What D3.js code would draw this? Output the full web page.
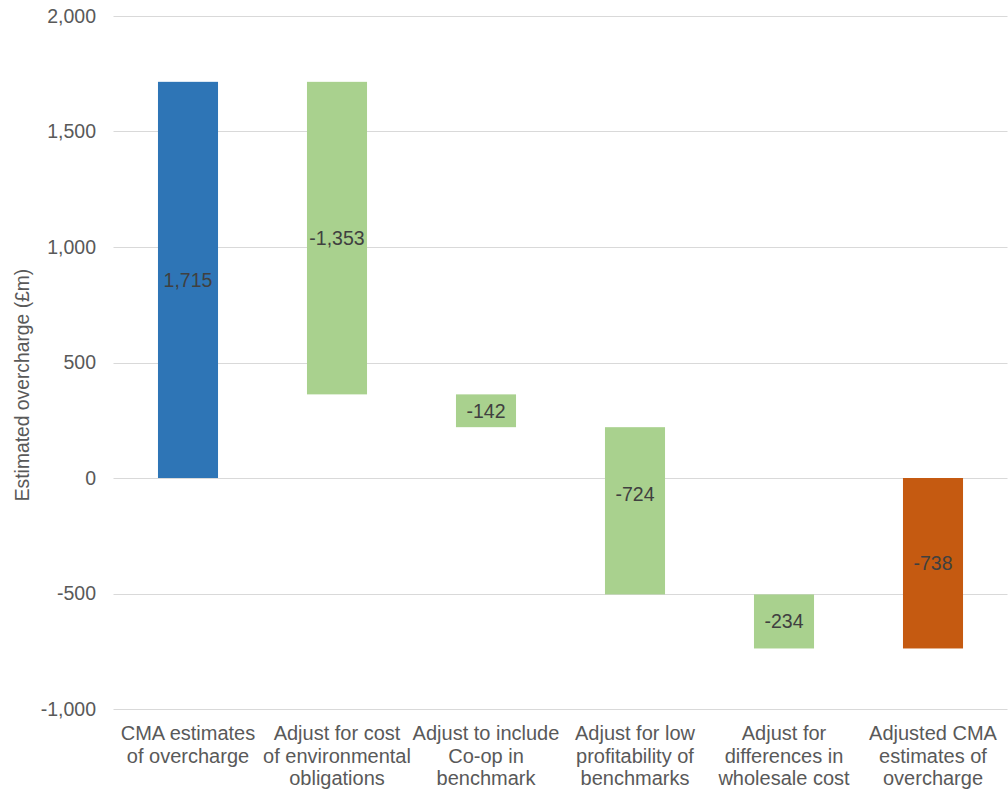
<!DOCTYPE html>
<html>
<head>
<meta charset="utf-8">
<script src="https://cdn.jsdelivr.net/npm/d3@7"></script>
<style>
  body { margin: 0; background: #fff; }
  text { font-family: "Liberation Sans", Arial, sans-serif; }
</style>
</head>
<body>
<div id="chart"></div>
<script>
// data
const categories = [
    ["CMA estimates", "of overcharge"],
    ["Adjust for cost", "of environmental", "obligations"],
    ["Adjust to include", "Co-op in", "benchmark"],
    ["Adjust for low", "profitability of", "benchmarks"],
    ["Adjust for", "differences in", "wholesale cost"],
    ["Adjusted CMA", "estimates of", "overcharge"]
];
const values = [1715, -1353, -142, -724, -234, -738];
const kinds = ["total", "step", "step", "step", "step", "total"];
const yTicks = [-1000, -500, 0, 500, 1000, 1500, 2000];

const width = 1008, height = 791;
const margin = { top: 16, right: 0.5, bottom: 82, left: 113.5 };

// plain hyphen for negatives, like the original
const fmt = d3.formatLocale({ decimal: ".", thousands: ",", grouping: [3], currency: ["", ""], minus: "-" }).format(",");

const svg = d3.select("#chart").append("svg")
    .attr("width", width)
    .attr("height", height);

// build waterfall segments
let running = 0;
const bars = values.map((v, i) => {
    let start, end;
    if (kinds[i] === "total") {
        start = 0; end = v;
        running = v;
    } else {
        start = running; end = running + v;
        running = end;
    }
    return { i, v, start, end, kind: kinds[i] };
});

const x = d3.scaleBand()
    .domain(d3.range(categories.length))
    .range([margin.left, width - margin.right])
    .paddingInner(0.597)
    .paddingOuter(0.2985);

const y = d3.scaleLinear()
    .domain([-1000, 2000])
    .range([height - margin.bottom, margin.top]);

// gridlines
svg.append("g")
    .selectAll("line")
    .data(yTicks)
    .enter()
    .append("line")
    .attr("x1", margin.left)
    .attr("x2", width - margin.right)
    .attr("y1", d => Math.round(y(d)) + 0.5)
    .attr("y2", d => Math.round(y(d)) + 0.5)
    .style("stroke", "#d9d9d9")
    .style("stroke-width", 1);

// y tick labels
svg.append("g")
    .selectAll("text")
    .data(yTicks)
    .enter()
    .append("text")
    .attr("x", 96)
    .attr("y", d => y(d))
    .attr("dy", "0.35em")
    .style("text-anchor", "end")
    .style("font-size", "19.5px")
    .style("fill", "#595959")
    .text(d => fmt(d));

// axis title
svg.append("text")
    .attr("transform", `translate(29,385) rotate(-90)`)
    .style("text-anchor", "middle")
    .style("font-size", "19.3px")
    .style("fill", "#595959")
    .text("Estimated overcharge (£m)");

const colors = { first: "#2e75b6", step: "#a9d18e", last: "#c55a11" };
const barColor = d => d.kind === "step" ? colors.step : (d.i === 0 ? colors.first : colors.last);

// bars
svg.append("g")
    .selectAll("rect")
    .data(bars)
    .enter()
    .append("rect")
    .attr("x", d => x(d.i))
    .attr("width", x.bandwidth())
    .attr("y", d => y(Math.max(d.start, d.end)))
    .attr("height", d => Math.abs(y(d.start) - y(d.end)))
    .style("fill", barColor);

// label position: middle of the bar; bars crossing zero are stacked in two
// parts, label goes at the mean of the two part centres
function labelValue(d) {
    const lo = Math.min(d.start, d.end), hi = Math.max(d.start, d.end);
    if (lo < 0 && hi > 0) return (hi / 2 + lo / 2) / 2;
    return (lo + hi) / 2;
}

svg.append("g")
    .selectAll("text")
    .data(bars)
    .enter()
    .append("text")
    .attr("x", d => x(d.i) + x.bandwidth() / 2)
    .attr("y", d => y(labelValue(d)))
    .attr("dy", "0.35em")
    .style("text-anchor", "middle")
    .style("font-size", "19.5px")
    .style("fill", "#404040")
    .text(d => fmt(d.v));

// category labels
const cat = svg.append("g")
    .selectAll("text")
    .data(categories)
    .enter()
    .append("text")
    .attr("x", (d, i) => x(i) + x.bandwidth() / 2)
    .attr("y", 740)
    .style("text-anchor", "middle")
    .style("font-size", "20px")
    .style("fill", "#595959");

cat.selectAll("tspan")
    .data(d => d)
    .enter()
    .append("tspan")
    .attr("x", function () { return d3.select(this.parentNode).attr("x"); })
    .attr("dy", (d, j) => j === 0 ? 0 : 22.5)
    .text(d => d);
</script>
</body>
</html>
